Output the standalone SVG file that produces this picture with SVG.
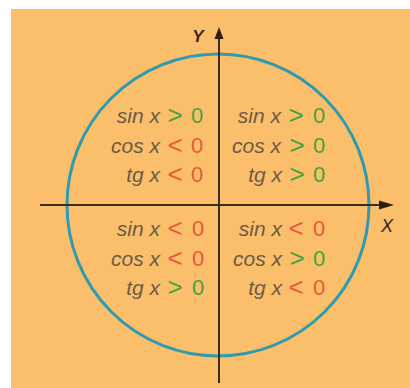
<svg xmlns="http://www.w3.org/2000/svg" width="410" height="388" viewBox="0 0 410 388">
  <style>
    .lbl { font-family: "Liberation Sans", Arial, sans-serif; font-style: italic; font-size: 21px; fill: #6e5b46; text-anchor: end; }
    .sg { font-family: "Liberation Sans", Arial, sans-serif; font-size: 26px; text-anchor: middle; }
    .z { font-family: "Liberation Sans", Arial, sans-serif; font-size: 22px; text-anchor: middle; }
    .pos { fill: #45a23c; }
    .neg { fill: #e8583a; }
    .axis { stroke: #3d2b1c; stroke-width: 2; fill: none; }
    .ax { font-family: "Liberation Sans", Arial, sans-serif; font-style: italic; fill: #2f2a26; }
  </style>
  <rect x="0" y="0" width="410" height="388" fill="#ffffff"/>
  <rect x="11" y="9" width="399" height="379" fill="#fbbf6b"/>
  <circle id="circle" cx="218" cy="205" r="151" fill="none" stroke="#2f9bb0" stroke-width="3"/>
  <g id="axes">
    <line class="axis" x1="219" y1="36" x2="219" y2="383"/>
    <polygon points="219,27 214.5,39 223.5,39" fill="#2b1f14"/>
    <line class="axis" x1="40" y1="205" x2="381" y2="205"/>
    <polygon points="394,205 379,200.5 379,209.5" fill="#2b1f14"/>
    <text class="ax" x="198" y="42" font-size="17" font-weight="bold" text-anchor="middle">Y</text>
    <text class="ax" x="387" y="232" font-size="18" text-anchor="middle">X</text>
  </g>
  <g id="q2">
    <text class="lbl" x="160" y="123">sin x</text><text class="sg pos" x="175" y="124">&gt;</text><text class="z pos" x="197" y="123">0</text>
    <text class="lbl" x="160" y="153">cos x</text><text class="sg neg" x="175" y="154">&lt;</text><text class="z neg" x="197" y="153">0</text>
    <text class="lbl" x="160" y="182">tg x</text><text class="sg neg" x="175" y="183">&lt;</text><text class="z neg" x="197" y="182">0</text>
  </g>
  <g id="q1">
    <text class="lbl" x="281" y="123">sin x</text><text class="sg pos" x="296" y="124">&gt;</text><text class="z pos" x="319" y="123">0</text>
    <text class="lbl" x="281" y="153">cos x</text><text class="sg pos" x="297" y="154">&gt;</text><text class="z pos" x="319" y="153">0</text>
    <text class="lbl" x="282" y="182">tg x</text><text class="sg pos" x="297" y="183">&gt;</text><text class="z pos" x="319" y="182">0</text>
  </g>
  <g id="q3">
    <text class="lbl" x="160" y="236">sin x</text><text class="sg neg" x="175" y="237">&lt;</text><text class="z neg" x="198" y="236">0</text>
    <text class="lbl" x="160" y="266">cos x</text><text class="sg neg" x="175" y="267">&lt;</text><text class="z neg" x="198" y="266">0</text>
    <text class="lbl" x="160" y="295">tg x</text><text class="sg pos" x="175" y="296">&gt;</text><text class="z pos" x="198" y="295">0</text>
  </g>
  <g id="q4">
    <text class="lbl" x="282" y="236">sin x</text><text class="sg neg" x="296" y="237">&lt;</text><text class="z neg" x="319" y="236">0</text>
    <text class="lbl" x="282" y="266">cos x</text><text class="sg pos" x="297" y="267">&gt;</text><text class="z pos" x="319" y="266">0</text>
    <text class="lbl" x="282" y="295">tg x</text><text class="sg neg" x="296" y="296">&lt;</text><text class="z neg" x="319" y="295">0</text>
  </g>
</svg>
